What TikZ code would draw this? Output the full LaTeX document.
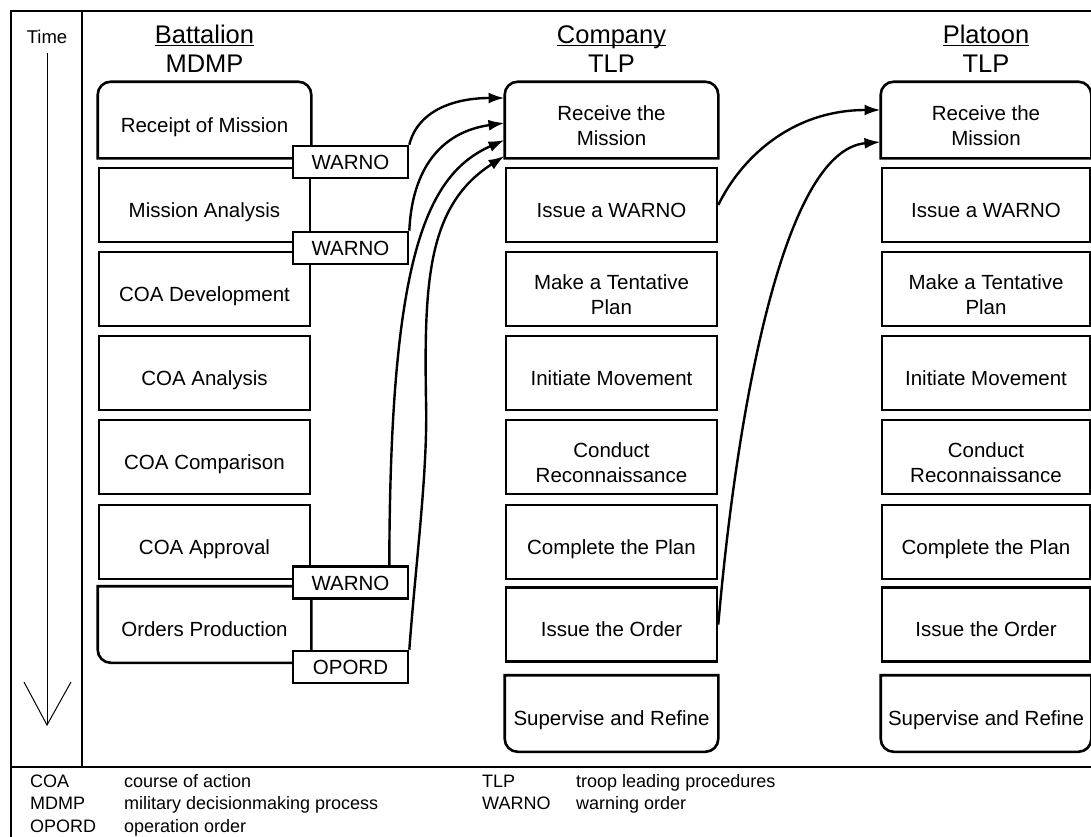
\documentclass[tikz,border=0pt]{standalone}
\usepackage{fontspec}
\setmainfont{Liberation Sans}
\usetikzlibrary{arrows.meta,calc}
\tikzset{
  frame/.style={line width=2.2pt},
  boxline/.style={line width=2.6pt,line join=miter},
  stepbox/.style={rectangle,minimum width=211pt,minimum height=74pt,inner sep=0pt,
     align=center,font=\fontsize{20.5}{25}\selectfont,draw,line width=2.6pt,
     text height=24pt,text depth=0pt},
  two/.style={text height=50pt,text depth=0pt},
  openbox/.style={stepbox,draw=none},
  pbox/.style={stepbox,minimum width=208pt},
  popenbox/.style={openbox,minimum width=208pt},
  orderbox/.style={rectangle,minimum width=115pt,minimum height=32pt,inner sep=0pt,
     font=\fontsize{20.5}{24}\selectfont,draw,fill=white,line width=2.6pt,
     text height=15pt,text depth=0pt},
  head/.style={inner sep=0pt,anchor=base,font=\fontsize{25.5}{30}\selectfont},
  legend/.style={inner sep=0pt,anchor=base west,font=\fontsize{18}{20}\selectfont},
  conn/.style={line width=2.4pt,-{Latex[length=16pt,width=11pt]}},
}
\newcommand\toprnd[1]{\draw[boxline] (#1.south west) -- ($(#1.north west)+(0,13)$)
  arc[start angle=180,end angle=270,radius=13] -- ($(#1.north east)+(-13,0)$)
  arc[start angle=270,end angle=360,radius=13] -- (#1.south east) -- cycle;}
\newcommand\botrnd[1]{\draw[boxline] (#1.north west) -- ($(#1.south west)+(0,-13)$)
  arc[start angle=180,end angle=90,radius=13] -- ($(#1.south east)+(-13,0)$)
  arc[start angle=90,end angle=0,radius=13] -- (#1.north east) -- cycle;}
\newcommand\blrnd[1]{\draw[boxline] (#1.north west) -- ($(#1.south west)+(0,-13)$)
  arc[start angle=180,end angle=90,radius=13] -- (#1.south east) -- (#1.north east) -- cycle;}
\begin{document}
\begin{tikzpicture}[x=1pt,y=-1pt]
\useasboundingbox (0,0) rectangle (1091,836);
% frame
\draw[frame] (11,845) -- (11,11) -- (1100,11);
\draw[frame] (11,767) -- (1100,767);
\draw[frame] (82,11) -- (82,767);
% time
\node[inner sep=0pt,anchor=base,font=\fontsize{18.5}{22}\selectfont] (time) at (47,43) {Time};
\coordinate (ta) at (47,53);
\coordinate (tb) at (47,725);
\draw[line width=1pt] (ta) -- (tb);
\draw[line width=1pt] (24,682) -- (tb) -- (71,682);
% headers
\node[head] (hb) at (204.5,43) {Battalion};
\node[head] (hbm) at (204.5,72) {MDMP};
\node[head] (hc) at (611.5,43) {Company};
\node[head] (hct) at (611.5,72) {TLP};
\node[head] (hp) at (986,43) {Platoon};
\node[head] (hpt) at (986,72) {TLP};
\foreach \n in {hb,hc,hp}{\draw[line width=1.3pt] ($(\n.base west)+(0,2.5)$) -- ($(\n.base east)+(0,2.5)$);}
% battalion column
\node[openbox] (b1) at (204.5,120) {Receipt of Mission};
\node[stepbox] (b2) at (204.5,205) {Mission Analysis};
\node[stepbox] (b3) at (204.5,289) {COA Development};
\node[stepbox] (b4) at (204.5,373) {COA Analysis};
\node[stepbox] (b5) at (204.5,457) {COA Comparison};
\node[stepbox] (b6) at (204.5,542) {COA Approval};
\node[openbox] (b7) at (204.5,624.5) {Orders Production};
\toprnd{b1}
\blrnd{b7}
% orders
\node[orderbox] (w1) at (350.5,162) {WARNO};
\node[orderbox] (w2) at (350.5,248) {WARNO};
\node[orderbox] (w3) at (350.5,582.5) {WARNO};
\node[orderbox] (op) at (350.5,667) {OPORD};
% company column
\node[openbox,two] (c1) at (611.5,120) {Receive the\\Mission};
\node[stepbox] (c2) at (611.5,205) {Issue a WARNO};
\node[stepbox,two] (c3) at (611.5,289) {Make a Tentative\\Plan};
\node[stepbox] (c4) at (611.5,373) {Initiate Movement};
\node[stepbox,two] (c5) at (611.5,457) {Conduct\\Reconnaissance};
\node[stepbox] (c6) at (611.5,542) {Complete the Plan};
\node[stepbox] (c7) at (611.5,624.5) {Issue the Order};
\node[openbox] (c8) at (611.5,713.5) {Supervise and Refine};
\toprnd{c1}
\botrnd{c8}
% platoon column
\node[popenbox,two] (p1) at (986,120) {Receive the\\Mission};
\node[pbox] (p2) at (986,205) {Issue a WARNO};
\node[pbox,two] (p3) at (986,289) {Make a Tentative\\Plan};
\node[pbox] (p4) at (986,373) {Initiate Movement};
\node[pbox,two] (p5) at (986,457) {Conduct\\Reconnaissance};
\node[pbox] (p6) at (986,542) {Complete the Plan};
\node[pbox] (p7) at (986,624.5) {Issue the Order};
\node[popenbox] (p8) at (986,713.5) {Supervise and Refine};
\toprnd{p1}
\botrnd{p8}
% connector tips
\coordinate (t1) at (504.5,98);
\coordinate (t2) at (504.5,123);
\coordinate (t3) at (504.5,140);
\coordinate (t4) at (504.5,156);
\coordinate (t5) at (880.5,110);
\coordinate (t6) at (880.5,142);
\coordinate (s3) at ($(w3.north east)+(-20,0)$);
% connectors
\draw[conn] (w1.north east) .. controls (418,110) and (455,98) .. (t1);
\draw[conn] (w2.north east) .. controls (412,170) and (440,132) .. (t2);
\draw[conn] (s3) .. controls (390,260) and (425,175) .. (t3);
\draw[conn] (op.north east) .. controls (416,560) and (428,470) .. (426,400)
   .. controls (424,280) and (428,205) .. (t4);
\draw[conn] (c2.east) .. controls (740,160) and (790,110) .. (t5);
\draw[conn] (c7.east) .. controls (735,430) and (780,150) .. (t6);
% legend
\node[legend] (l1a) at (30,787) {COA};
\node[legend] (l1b) at (124,787) {course of action};
\node[legend] (l2a) at (30,809.5) {MDMP};
\node[legend] (l2b) at (124,809.5) {military decisionmaking process};
\node[legend] (l3a) at (30,832) {OPORD};
\node[legend] (l3b) at (124,832) {operation order};
\node[legend] (l4a) at (482,787) {TLP};
\node[legend] (l4b) at (576,787) {troop leading procedures};
\node[legend] (l5a) at (482,809.5) {WARNO};
\node[legend] (l5b) at (576,809.5) {warning order};
\end{tikzpicture}
\end{document}
